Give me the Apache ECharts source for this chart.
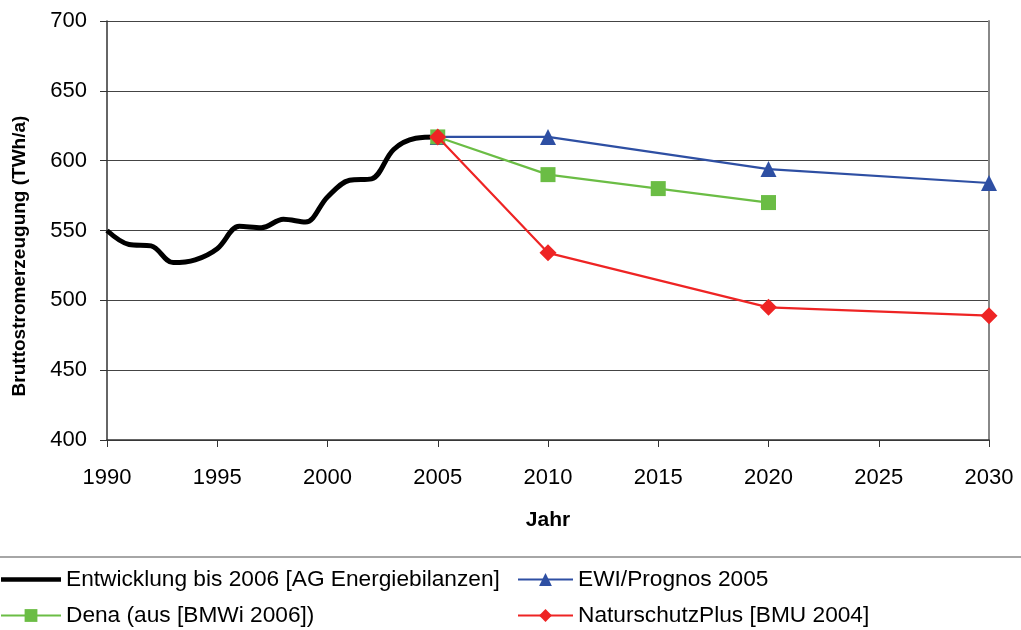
<!DOCTYPE html>
<html>
<head>
<meta charset="utf-8">
<script src="https://cdn.jsdelivr.net/npm/echarts@6/dist/echarts.min.js"></script>
<style>html,body{margin:0;padding:0;background:#fff}#c{width:1021px;height:630px}</style>
</head>
<body>
<div id="c"></div>
<script>
const histYears = [1990,1991,1992,1993,1994,1995,1996,1997,1998,1999,2000,2001,2002,2003,2004,2005];
const histValues = [550,540,539,527,529,537,553,552,558,556,574,586,587,608,616,617];
const ewiYears = [2005,2010,2020,2030];
const ewiValues = [617,617,594,584];
const denaYears = [2005,2010,2015,2020];
const denaValues = [617,590,580,570];
const natYears = [2005,2010,2020,2030];
const natValues = [617,534,495,489];
const names = ['Entwicklung bis 2006 [AG Energiebilanzen]','EWI/Prognos 2005','Dena (aus [BMWi 2006])','NaturschutzPlus [BMU 2004]'];
const yTitle = 'Bruttostromerzeugung (TWh/a)';
const xTitle = 'Jahr';

const zip = (a,b) => a.map((x,i)=>[x,b[i]]);
const font = 'Liberation Sans, Arial, sans-serif';
const chart = echarts.init(document.getElementById('c'), null, {renderer:'canvas'});
chart.setOption({
  animation:false,
  textStyle:{fontFamily:font},
  grid:{left:107,right:32,top:21,bottom:190,containLabel:false},
  xAxis:{type:'value',min:1990,max:2030,interval:5,
    name:xTitle,nameLocation:'middle',nameGap:70,
    nameTextStyle:{fontSize:21,fontWeight:'bold',color:'#000',fontFamily:font},
    axisLine:{lineStyle:{color:'#333',width:1.5}},
    axisTick:{show:true,length:7,lineStyle:{color:'#333'}},
    axisLabel:{fontSize:22,color:'#000',margin:27,fontFamily:font,formatter:v=>String(v)},
    splitLine:{show:false}},
  yAxis:[{type:'value',min:400,max:700,interval:50,
    axisLine:{show:true,lineStyle:{color:'#333',width:1.5}},
    axisTick:{show:true,length:7,lineStyle:{color:'#333'}},
    axisLabel:{fontSize:22,color:'#000',margin:20,fontFamily:font},
    splitLine:{show:true,lineStyle:{color:'#444',width:1}}},
   {type:'value',min:400,max:700,position:'right',
    axisLine:{show:true,lineStyle:{color:'#888',width:2}},
    axisTick:{show:false},axisLabel:{show:false},splitLine:{show:false}}],
  legend:[
    {data:[{name:names[0],icon:'path://M0,0 L60,0 L60,4.5 L0,4.5 Z'},names[2]],orient:'vertical',left:0,top:568,padding:0,itemGap:13,itemWidth:60,itemHeight:16,
     textStyle:{fontSize:22.7,color:'#000',fontFamily:font}},
    {data:[names[1],names[3]],orient:'vertical',left:517,top:568,padding:0,itemGap:13,itemWidth:55,itemHeight:16,
     textStyle:{fontSize:22.7,color:'#000',fontFamily:font}}
  ],
  graphic:[
    {type:'line',shape:{x1:0,y1:557,x2:1021,y2:557},style:{stroke:'#888',lineWidth:1.5}},
    {type:'text',x:20,y:256,rotation:Math.PI/2,
     style:{text:yTitle,font:'bold 19px '+font,fill:'#000',textAlign:'center',textVerticalAlign:'middle'}}
  ],
  series:[
    {name:names[0],type:'line',data:zip(histYears,histValues),smooth:0.35,symbol:'none',
     lineStyle:{color:'#000',width:5},itemStyle:{color:'#000'},z:2},
    {name:names[1],type:'line',data:zip(ewiYears,ewiValues),symbol:'triangle',symbolSize:16,
     lineStyle:{color:'#2e4fa3',width:2.2},itemStyle:{color:'#2e4fa3'},z:3},
    {name:names[2],type:'line',data:zip(denaYears,denaValues),symbol:'rect',symbolSize:15,
     lineStyle:{color:'#6bbd45',width:2.2},itemStyle:{color:'#6bbd45'},z:4},
    {name:names[3],type:'line',data:zip(natYears,natValues),symbol:'diamond',symbolSize:17,
     lineStyle:{color:'#ee2424',width:2.2},itemStyle:{color:'#ee2424'},z:5}
  ]
});
</script>
</body>
</html>
